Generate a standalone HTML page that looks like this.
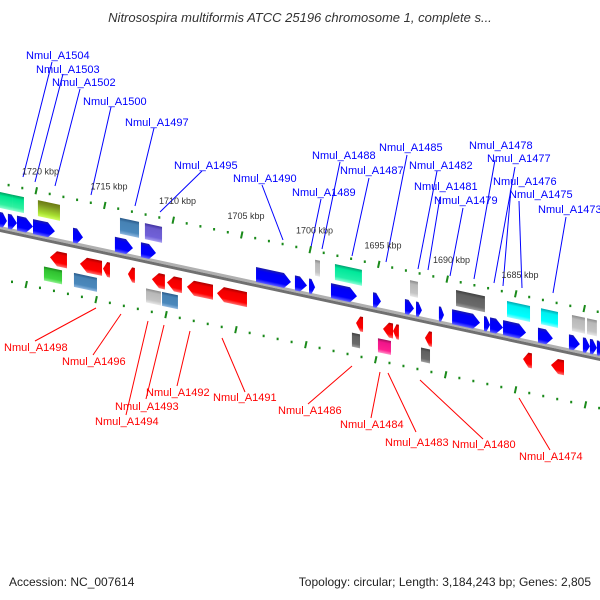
<!DOCTYPE html>
<html><head><meta charset="utf-8">
<style>
html,body{margin:0;padding:0;background:#fff;}
svg{display:block;font-family:"Liberation Sans",sans-serif;}
.bl{fill:#0000ff;font-size:11px;}
.rl{fill:#ff0000;font-size:11px;}
.kb{fill:#333;font-size:9px;}
</style></head>
<body>
<svg id="map" width="600" height="600" viewBox="0 0 600 600" xmlns="http://www.w3.org/2000/svg">
<defs id="defs"></defs>
<text x="300" y="22" text-anchor="middle" font-size="13" font-style="italic" fill="#333">Nitrosospira multiformis ATCC 25196 chromosome 1, complete s...</text>
<g id="skew" transform="matrix(1,0.215,0,1,0,0)">
  <rect x="-5" y="226" width="620" height="3" fill="#b0b0b0"/>
  <rect x="-5" y="229" width="620" height="3" fill="#707070"/>
</g>
<g id="labels"></g>
<g id="kbl"></g>
<text x="9" y="586" font-size="12" fill="#222">Accession: NC_007614</text>
<text x="591" y="586" font-size="12" fill="#222" text-anchor="end">Topology: circular; Length: 3,184,243 bp; Genes: 2,805</text>
</svg>
<script>
// gene data (kbp)
const fwdStart=[1722.63,1722.05,1721.39,1720.22,1717.30,1714.24,1712.34,1703.94,1701.10,1700.07,1698.47,1695.40,1693.07,1692.26,1690.59,1689.63,1687.30,1686.86,1685.91,1683.36,1681.10,1680.08,1679.57,1679.06];
const fwdEnd=[1722.12,1721.39,1720.22,1718.62,1716.57,1712.92,1711.24,1701.39,1700.22,1699.63,1696.57,1694.82,1692.41,1691.83,1690.22,1687.59,1686.86,1685.91,1684.23,1682.27,1680.30,1679.57,1679.06,1678.62];
const fwdOtherStart=[1722.63,1721.75,1719.86,1713.87,1712.05,1699.63,1698.18,1692.70,1689.34,1685.62,1683.14,1680.88,1679.78];
const fwdOtherEnd=[1721.75,1720.88,1718.25,1712.48,1710.80,1699.27,1696.21,1692.12,1687.23,1683.94,1681.90,1679.93,1679.06];
const fwdOtherColor=["#00e890","#00e890","olive","steel","slate","silver","mint","silver","dim","cyan","cyan","silver","silver"];
const revStart=[1718.98,1716.79,1715.11,1713.29,1711.54,1710.44,1708.98,1706.79,1696.64,1694.67,1693.94,1691.61,1684.45,1682.41];
const revEnd=[1717.74,1715.18,1714.60,1712.78,1710.59,1709.35,1707.08,1704.60,1696.13,1693.94,1693.51,1691.10,1683.80,1681.46];
const revOtherStart=[1719.42,1717.23,1711.97,1710.80,1696.94,1695.04,1691.90];
const revOtherEnd=[1718.10,1715.55,1710.88,1709.64,1696.35,1694.09,1691.24];
const revOtherColor=["lime","steel","silver","steel","dim","pink","dim"];
const majorTicks=[1725,1720,1715,1710,1705,1700,1695,1690,1685,1680];
const tickLabels=["","1720 kbp","1715 kbp","1710 kbp","1705 kbp","1700 kbp","1695 kbp","1690 kbp","1685 kbp",""];

const NS="http://www.w3.org/2000/svg";
const K=0.215;
function xs(kbp){return 36+(1720-kbp)*13.7;}
function xl(kbp){return 12+(1721-kbp)*13.98;}
const pal={
 blue:["#1c1ca8","#0000f5","#0000ff","#6464ff"],
 red:["#a80000","#f00000","#ff0000","#ff7070"],
 "#00e890":["#00a060","#00e890","#30f0a0","#90ffd0"],
 mint:["#00a070","#00e89a","#20f0a8","#90ffd8"],
 olive:["#6b7a10","#7a9020","#a8e030","#d0ff60"],
 steel:["#2a5a8a","#4682b4","#4a88bc","#90b8e0"],
 slate:["#4030a0","#6a5acd","#7060d8","#a8a0f0"],
 silver:["#8a8a8a","#b8b8b8","#c4c4c4","#e8e8e8"],
 dim:["#404040","#606060","#6a6a6a","#a0a0a0"],
 cyan:["#00a8b0","#00f0f0","#00ffff","#90ffff"],
 lime:["#1a8a1a","#30c030","#40d840","#90f090"],
 pink:["#a0105a","#f0148a","#ff2090","#ff90c8"]};
const defs=document.getElementById('defs');
for(const k in pal){
  const g=document.createElementNS(NS,'linearGradient');
  g.setAttribute('id','g_'+k.replace('#',''));
  g.setAttribute('x1','0');g.setAttribute('y1','0');g.setAttribute('x2','0');g.setAttribute('y2','1');
  [[0,0],[0.22,1],[0.75,2],[1,3]].forEach(([o,i])=>{const s=document.createElementNS(NS,'stop');s.setAttribute('offset',o);s.setAttribute('stop-color',pal[k][i]);g.appendChild(s);});
  defs.appendChild(g);
}
const sk=document.getElementById('skew');
function gene(a,b,y,h,col,dir,name){
  let x1=Math.min(xs(a),xs(b)),x2=Math.max(xs(a),xs(b));
  const w=x2-x1;let pts;
  if(dir===0){pts=[[x1,y],[x2,y],[x2,y+h],[x1,y+h]];}
  else{const ar=Math.min(7,w*0.6);
    if(dir>0)pts=[[x1,y],[x2-ar,y],[x2,y+h/2],[x2-ar,y+h],[x1,y+h]];
    else pts=[[x2,y],[x1+ar,y],[x1,y+h/2],[x1+ar,y+h],[x2,y+h]];}
  const p=document.createElementNS(NS,'polygon');
  p.setAttribute('points',pts.map(q=>q.join(',')).join(' '));
  p.setAttribute('fill','url(#g_'+col.replace('#','')+')');
  
  
  sk.appendChild(p);
}
for(let i=0;i<fwdStart.length;i++)gene(fwdStart[i],fwdEnd[i],212,15,'blue',1,'forward-gene');
for(let i=0;i<fwdOtherStart.length;i++)gene(fwdOtherStart[i],fwdOtherEnd[i],192,16,fwdOtherColor[i],0,'forward-feature');
for(let i=0;i<revStart.length;i++)gene(revStart[i],revEnd[i],239,15,'red',-1,'reverse-gene');
for(let i=0;i<revOtherStart.length;i++)gene(revOtherStart[i],revOtherEnd[i],257,14,revOtherColor[i],0,'reverse-feature');

// ticks
function tick(x,y,major,name){
  const sy=y+K*x;
  if(major){const l=document.createElementNS(NS,'line');
    l.setAttribute('x1',x+1);l.setAttribute('y1',sy-3.5);l.setAttribute('x2',x-0.5);l.setAttribute('y2',sy+3.5);
    l.setAttribute('stroke','#1a8a1a');l.setAttribute('stroke-width','2');
    
    
    document.getElementById('map').appendChild(l);}
  else{const r=document.createElementNS(NS,'rect');
    r.setAttribute('x',x-1);r.setAttribute('y',sy-1);r.setAttribute('width',2);r.setAttribute('height',2.5);r.setAttribute('fill','#1a8a1a');
    
    
    document.getElementById('map').appendChild(r);}
}
for(let k=1726;k>=1676;k--){
  const x=xs(k);if(x>-5&&x<605)tick(x,183,k%5===0,'outer-tick');
  const x2=xl(k);if(x2>-5&&x2<605)tick(x2,279,k%5===0,'inner-tick');
}
const kbl=document.getElementById('kbl');
majorTicks.forEach((k,i)=>{if(!tickLabels[i])return;const x=xs(k);
  const t=document.createElementNS(NS,'text');t.setAttribute('class','kb');
  t.setAttribute('x',x-14);t.setAttribute('y',170+K*(x-14));t.textContent=tickLabels[i];
  
  
  kbl.appendChild(t);});

// gene labels
const blueL=[["Nmul_A1504",26,59,52,62,23,177],["Nmul_A1503",36,73,63,74,35,182],["Nmul_A1502",52,86,80,89,55,186],["Nmul_A1500",83,105,111,107,91,195],["Nmul_A1497",125,126,154,128,135,206],["Nmul_A1495",174,169,202,171,160,212],["Nmul_A1490",233,182,262,185,283,240],["Nmul_A1488",312,159,340,162,322,249],["Nmul_A1487",340,174,369,178,352,256],["Nmul_A1489",292,196,321,199,311,247],["Nmul_A1485",379,151,407,155,386,262],["Nmul_A1482",409,169,437,171,418,269],["Nmul_A1481",414,190,440,197,428,270],["Nmul_A1479",434,204,463,208,450,276],["Nmul_A1478",469,149,495,160,474,279],["Nmul_A1477",487,162,515,167,494,283],["Nmul_A1476",493,185,511,188,503,286],["Nmul_A1475",509,198,519,201,522,288],["Nmul_A1473",538,213,566,217,553,293]];
const redL=[["Nmul_A1498",4,351,96,308,35,341],["Nmul_A1496",62,365,121,314,93,355],["Nmul_A1492",146,396,190,331,177,386],["Nmul_A1493",115,410,164,325,146,399],["Nmul_A1494",95,425,148,321,126,415],["Nmul_A1491",213,401,222,338,245,392],["Nmul_A1486",278,414,352,366,308,404],["Nmul_A1484",340,428,380,372,371,418],["Nmul_A1483",385,446,388,373,416,432],["Nmul_A1480",452,448,420,380,483,439],["Nmul_A1474",519,460,519,398,550,450]];
const lg=document.getElementById('labels');
function lab(d,cls,col){
  const l=document.createElementNS(NS,'line');
  l.setAttribute('x1',d[3]);l.setAttribute('y1',d[4]);l.setAttribute('x2',d[5]);l.setAttribute('y2',d[6]);
  l.setAttribute('stroke',col);l.setAttribute('stroke-width','1');
  
  
  lg.appendChild(l);
  const t=document.createElementNS(NS,'text');t.setAttribute('class',cls);
  t.setAttribute('x',d[1]);t.setAttribute('y',d[2]);t.textContent=d[0];
  
  
  lg.appendChild(t);
}
blueL.forEach(d=>lab(d,'bl','#0000ff'));
redL.forEach(d=>lab(d,'rl','#ff0000'));
</script>
</body></html>
